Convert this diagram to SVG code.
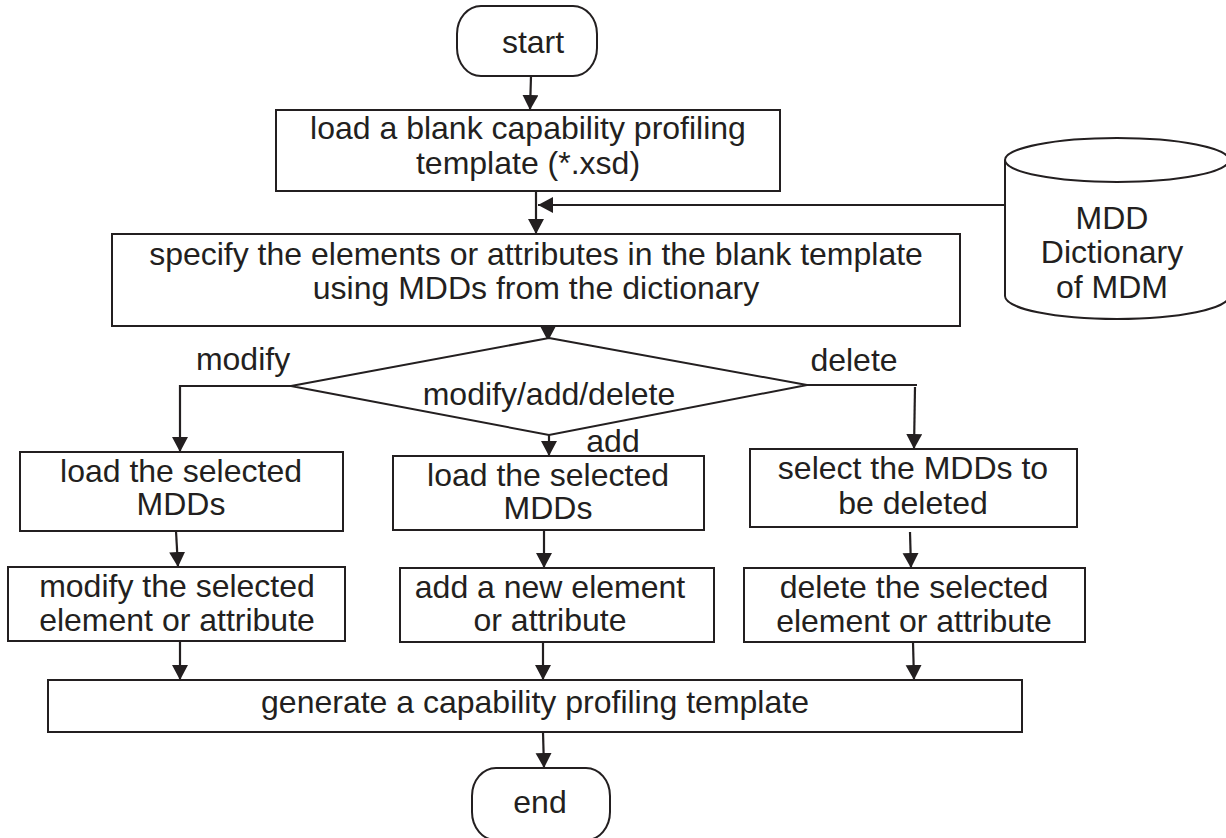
<svg xmlns="http://www.w3.org/2000/svg" width="1226" height="838" viewBox="0 0 1226 838">
  <defs>
    <marker id="arrow" markerUnits="userSpaceOnUse" markerWidth="16" markerHeight="17" refX="15" refY="8" orient="auto">
      <path d="M0,0 L15,8 L0,16 z" fill="#231f20"/>
    </marker>
    <style>
      .shape { fill: #ffffff; stroke: #231f20; stroke-width: 2; }
      .link { fill: none; stroke: #231f20; stroke-width: 2.2; }
      .arr { marker-end: url(#arrow); }
      text { font-family: "Liberation Sans", Arial, sans-serif; font-size: 32px; fill: #231f20; text-anchor: middle; }
    </style>
  </defs>
  <rect width="1226" height="838" fill="#ffffff"/>

  <!-- connectors -->
  <g id="connectors">
    <line class="link arr" x1="531" y1="76" x2="530" y2="110"/>
    <line class="link arr" x1="536" y1="191" x2="536" y2="234"/>
    <line class="link arr" x1="1005" y1="205" x2="538" y2="205"/>
    <line class="link arr" x1="548" y1="326" x2="548" y2="341"/>
    <polyline class="link arr" points="291,386 180,386 180,452"/>
    <polyline class="link" points="807,385 917,385"/>
    <line class="link arr" x1="915" y1="387" x2="914" y2="449"/>
    <line class="link arr" x1="549" y1="435" x2="549" y2="456"/>
    <line class="link arr" x1="176" y1="531" x2="178" y2="567"/>
    <line class="link arr" x1="544" y1="530" x2="544" y2="568"/>
    <line class="link arr" x1="910" y1="532" x2="911" y2="568"/>
    <line class="link arr" x1="180" y1="641" x2="180" y2="680"/>
    <line class="link arr" x1="543" y1="642" x2="543" y2="680"/>
    <line class="link arr" x1="913" y1="642" x2="914" y2="680"/>
    <line class="link arr" x1="543" y1="732" x2="544" y2="768"/>
  </g>

  <g id="start">
    <rect class="shape" x="457" y="6" width="140" height="70" rx="24" ry="28"/>
    <text x="533" y="53">start</text>
  </g>

  <g id="load-template">
    <rect class="shape" x="276" y="110" width="504" height="81"/>
    <text x="528" y="139">load a blank capability profiling</text>
    <text x="528" y="174">template (*.xsd)</text>
  </g>

  <g id="mdd-dictionary">
    <path class="shape" d="M1005,160 L1005,296 A112,23 0 0 0 1229,296 L1229,160"/>
    <ellipse class="shape" cx="1117" cy="160" rx="112" ry="22"/>
    <text x="1112" y="229">MDD</text>
    <text x="1112" y="263">Dictionary</text>
    <text x="1112" y="298">of MDM</text>
  </g>

  <g id="specify-elements">
    <rect class="shape" x="112" y="234" width="848" height="92"/>
    <text x="536" y="265">specify the elements or attributes in the blank template</text>
    <text x="536" y="299">using MDDs from the dictionary</text>
  </g>

  <g id="decision">
    <polygon class="shape" points="549,338 807,385 549,435 291,386"/>
    <text x="549" y="405">modify/add/delete</text>
    <text x="243" y="370">modify</text>
    <text x="854" y="371">delete</text>
    <text x="613" y="452">add</text>
  </g>

  <g id="modify-load">
    <rect class="shape" x="20" y="452" width="323" height="79"/>
    <text x="181" y="482">load the selected</text>
    <text x="181" y="515">MDDs</text>
  </g>

  <g id="add-load">
    <rect class="shape" x="393" y="456" width="311" height="74"/>
    <text x="548" y="486">load the selected</text>
    <text x="548" y="519">MDDs</text>
  </g>

  <g id="delete-select">
    <rect class="shape" x="750" y="449" width="327" height="78"/>
    <text x="913" y="479">select the MDDs to</text>
    <text x="913" y="514">be deleted</text>
  </g>

  <g id="modify-element">
    <rect class="shape" x="8" y="567" width="337" height="74"/>
    <text x="177" y="597">modify the selected</text>
    <text x="177" y="631">element or attribute</text>
  </g>

  <g id="add-element">
    <rect class="shape" x="400" y="568" width="314" height="74"/>
    <text x="550" y="598">add a new element</text>
    <text x="550" y="631">or attribute</text>
  </g>

  <g id="delete-element">
    <rect class="shape" x="744" y="568" width="341" height="74"/>
    <text x="914" y="598">delete the selected</text>
    <text x="914" y="632">element or attribute</text>
  </g>

  <g id="generate">
    <rect class="shape" x="48" y="680" width="974" height="52"/>
    <text x="535" y="713">generate a capability profiling template</text>
  </g>

  <g id="end">
    <rect class="shape" x="472" y="768" width="138" height="72" rx="24" ry="28"/>
    <text x="540" y="813">end</text>
  </g>
</svg>
